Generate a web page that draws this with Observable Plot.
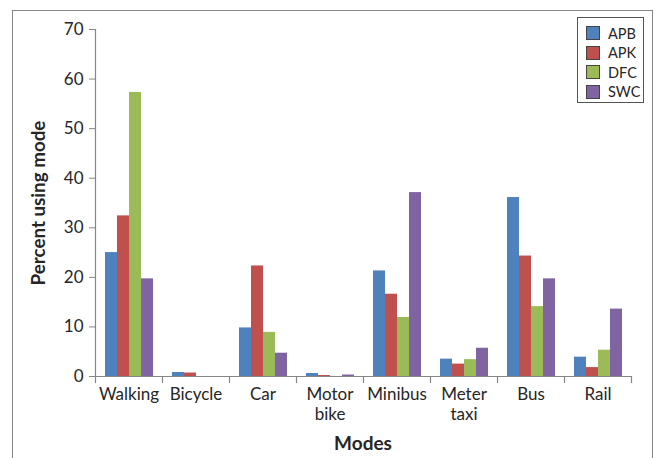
<!DOCTYPE html>
<html><head><meta charset="utf-8">
<script src="https://cdn.jsdelivr.net/npm/d3@7"></script>
<script src="https://cdn.jsdelivr.net/npm/@observablehq/plot@0.6"></script>
<style>
body{margin:0;background:#fff;}
#wrap{position:relative;width:657px;height:458px;overflow:hidden;font-family:Lato,"Open Sans",sans-serif;color:#262626;}
#border{position:absolute;left:12px;top:10px;width:641px;height:480px;border:1.5px solid #868686;box-sizing:border-box;}
#chart{position:absolute;left:0;top:0;}
#ylab{position:absolute;left:37px;top:203px;transform:translate(-50%,-50%) rotate(-90deg);font-weight:bold;font-size:18.8px;white-space:nowrap;}
#xlab{position:absolute;left:363px;top:442px;transform:translate(-50%,-50%);font-weight:bold;font-size:19px;}
#legend{position:absolute;left:577px;top:17px;width:67px;height:86px;border:1px solid #555;box-sizing:border-box;background:#fff;}
.li{position:absolute;left:8px;height:16px;display:flex;align-items:center;font-size:14.5px;}
.sw{width:14px;height:14px;box-sizing:border-box;border:1px solid #444;margin-right:8px;}
</style></head>
<body><div id="wrap"><div id="border"></div><div id="chart"></div>
<div id="ylab">Percent using mode</div><div id="xlab">Modes</div><div id="legend"></div></div>
<script>
const modes = ["Walking","Bicycle","Car","Motor\nbike","Minibus","Meter\ntaxi","Bus","Rail"];
const seriesNames = ["APB","APK","DFC","SWC"];
const colors = ["#4F81BD","#C0504D","#9BBB59","#8064A2"];
const APB = [25.0, 0.8, 9.8, 0.6, 21.3, 3.5, 36.1, 3.9];
const APK = [32.4, 0.7, 22.3, 0.2, 16.6, 2.5, 24.3, 1.8];
const DFC = [57.3, 0.0, 8.9, 0.0, 11.9, 3.4, 14.1, 5.3];
const SWC = [19.7, 0.0, 4.7, 0.3, 37.1, 5.7, 19.7, 13.6];
const yTicks = [0,10,20,30,40,50,60,70];

const seriesValues = {APB, APK, DFC, SWC};
const rows = [];
modes.forEach((m,i)=>seriesNames.forEach(s=>rows.push({mode:m, series:s, value:seriesValues[s][i]})));

const H = 458, MT = 29, MB = 82;
const plotH = H - MT - MB;
const axisGray = "#868686";

const chart = Plot.plot({
  width:657, height:H, marginLeft:94, marginRight:25, marginTop:MT, marginBottom:MB,
  style:{fontFamily:"Lato, 'Open Sans', sans-serif", fontSize:"17px", color:"#262626", background:"transparent"},
  fx:{domain:modes, padding:0, label:null},
  x:{domain:seriesNames, paddingInner:0, paddingOuter:0.73, axis:null},
  y:{domain:[0,70], axis:null},
  color:{domain:seriesNames, range:colors},
  marks:[
    Plot.barY(rows, {fx:"mode", x:"series", y:"value", fill:"series", inset:0}),
    Plot.ruleY([0], {stroke:axisGray, strokeWidth:1.2}),
    Plot.frame({anchor:"left", facetAnchor:"left", stroke:axisGray, strokeWidth:1.2}),
    Plot.frame({anchor:"left", stroke:axisGray, strokeWidth:1.2, insetTop:plotH, insetBottom:-6}),
    Plot.frame({anchor:"right", facetAnchor:"right", stroke:axisGray, strokeWidth:1.2, insetTop:plotH, insetBottom:-6}),
    Plot.axisY({ticks:yTicks, tickSize:6, tickPadding:6, stroke:axisGray, label:null, fontSize:17}),
    Plot.axisFx({anchor:"bottom", tickSize:0, tickPadding:10, label:null, fontSize:17, lineHeight:1.15})
  ]
});
document.getElementById("chart").appendChild(chart);

const leg = document.getElementById("legend");
seriesNames.forEach((s,i)=>{
  const d = document.createElement("div");
  d.className = "li";
  d.style.top = (7 + i*19.5) + "px";
  d.innerHTML = `<div class="sw" style="background:${colors[i]}"></div><span>${s}</span>`;
  leg.appendChild(d);
});
</script></body></html>
